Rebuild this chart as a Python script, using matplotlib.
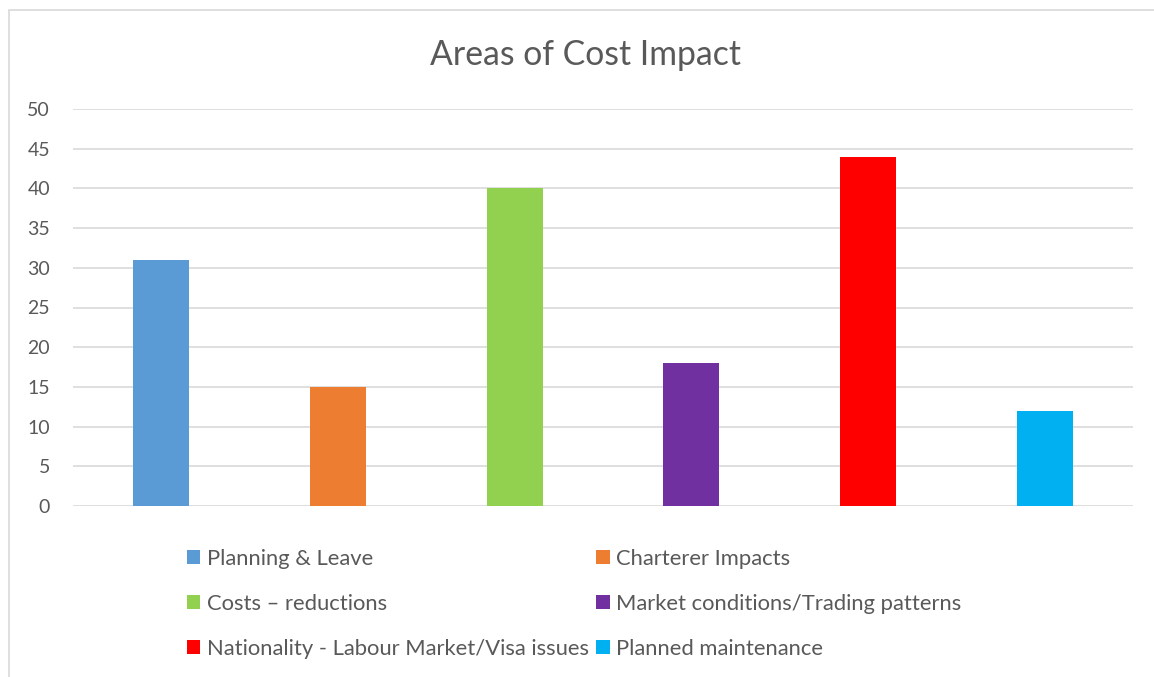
import matplotlib
matplotlib.use("Agg")
import matplotlib.pyplot as plt
from matplotlib.patches import Patch, Rectangle

# data
categories = ["Planning & Leave", "Charterer Impacts", "Costs \u2013 reductions",
              "Market conditions/Trading patterns",
              "Nationality - Labour Market/Visa issues", "Planned maintenance"]
values = [31, 15, 40, 18, 44, 12]
colors = ["#5B9BD5", "#ED7D31", "#92D050", "#7030A0", "#FF0000", "#00B0F0"]
yticks = list(range(0, 51, 5))

plt.rcParams["font.family"] = ["Lato", "DejaVu Sans"]
TXT = "#595959"
GRID = "#D9D9D9"

W, H = 1154, 677
fig = plt.figure(figsize=(W / 100, H / 100), dpi=100, facecolor="white")

# chart border (clipped at right/bottom as in the screenshot)
fig.patches.append(Rectangle((9 / W, -0.1), 1.2, 1 - 10 / H + 0.1,
                             transform=fig.transFigure, fill=False,
                             edgecolor=GRID, linewidth=1.2))

ax = fig.add_axes([73 / W, 1 - 506 / H, (1133 - 73) / W, (506 - 109) / H])
x = list(range(len(values)))
ax.bar(x, values, width=0.317, color=colors, zorder=3)

ax.set_xlim(-0.5, len(values) - 0.5)
ax.set_ylim(0, 50)
ax.set_yticks(yticks)
ax.set_xticks([])
ax.yaxis.grid(True, color=GRID, linewidth=1.2, zorder=0)
ax.set_axisbelow(True)
for sp in ax.spines.values():
    sp.set_visible(False)
ax.tick_params(axis="y", length=0, labelsize=14, labelcolor=TXT, pad=16.5)

fig.text(585 / W, 1 - 55 / H, "Areas of Cost Impact", ha="center", va="center",
         fontsize=24.3, color=TXT)

# legend is filled row by row in the original (2 columns)
order = [0, 2, 4, 1, 3, 5]
handles = [Patch(facecolor=colors[i], edgecolor="none") for i in order]
labels = [categories[i] for i in order]
leg = fig.legend(handles, labels, ncol=2, loc="upper left",
                 bbox_to_anchor=(176 / W, 1 - 538 / H),
                 frameon=False, fontsize=15.8, labelcolor=TXT,
                 handlelength=0.6, handleheight=0.6, handletextpad=0.3,
                 columnspacing=0.35, labelspacing=1.14, borderpad=0)

fig.savefig("out.png", dpi=100, facecolor="white")
